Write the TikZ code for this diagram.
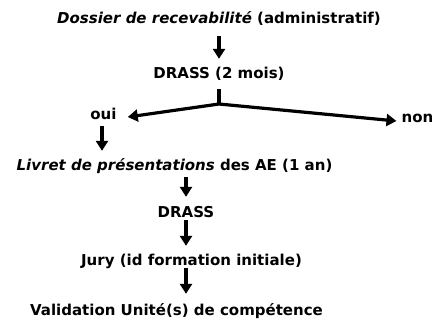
\documentclass[tikz,border=0pt]{standalone}
\usepackage{fontspec}
\setmainfont{DejaVu Sans}
\usetikzlibrary{arrows.meta}
\tikzset{%
  etape/.style = {font=\bfseries\fontsize{15}{18}\selectfont,
    inner sep=0pt, text height=11pt, text depth=3pt},
  flow/.style = {draw, line width=3.2pt, -{Triangle[length=10pt,width=12pt]}},
  stem/.style = {draw, line width=3.2pt}
}

\begin{document}
\begin{tikzpicture}[x=1pt,y=-1pt]
  \useasboundingbox (0,0) rectangle (443,322);
  \node[etape] (dossier) at (219,19) {\textit{Dossier de recevabilité} (administratif)};
  \node[etape] (drass1) at (219,74) {DRASS (2 mois)};
  \coordinate (split) at (219,104);
  \node[etape] (oui) at (103.5,115) {oui};
  \node[etape] (non) at (417.5,118) {non};
  \node[etape] (livret) at (174.5,166) {\textit{Livret de présentations} des AE (1 an)};
  \node[etape] (drass2) at (186,213) {DRASS};
  \node[etape] (jury) at (191.5,261) {Jury (id formation initiale)};
  \node[etape] (validation) at (176.5,311) {Validation Unité(s) de compétence};
  % fleches
  \draw[flow, shorten <=10pt, shorten >=8pt] (dossier.south) -- (drass1.north);
  \draw[stem, shorten <=8pt] (drass1.south) -- (split);
  \draw[flow] (split) -- ([xshift=11pt,yshift=-2pt]oui.east);
  \draw[flow] (split) -- ([xshift=-5pt,yshift=-3pt]non.west);
  \draw[flow, shorten <=4pt, shorten >=8pt] ([xshift=-1.5pt]oui.south) -- ([xshift=-1.5pt]oui.south |- livret.north);
  \draw[flow, shorten <=4pt, shorten >=9pt] (livret.south -| drass2.south) -- (drass2.north);
  \draw[flow, shorten >=8pt] (drass2.south) -- (drass2.south |- jury.north);
  \draw[flow, shorten >=10pt] (jury.south -| drass2.south) -- (drass2.south |- validation.north);
\end{tikzpicture}
\end{document}
